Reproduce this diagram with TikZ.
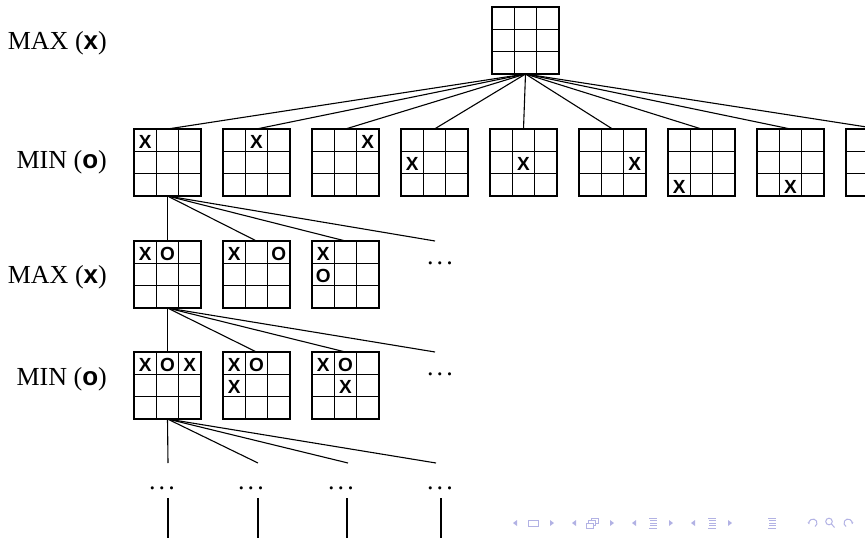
\documentclass[tikz,border=0pt]{standalone}
\usepackage{fontspec}
\setmainfont{Liberation Serif}
\setsansfont{Liberation Sans}
\usepackage{tikz}
\usetikzlibrary{calc,positioning}
\usetikzlibrary{arrows.meta}
\definecolor{navblue}{RGB}{178,178,228}

\tikzset{
  board/.style={draw, line width=1.2pt, minimum size=67pt, inner sep=0pt, outer sep=0pt,
    path picture={
      \foreach \t in {1,2} {
        \draw[line width=1.2pt] ($(path picture bounding box.north west)!\t/3!(path picture bounding box.north east)$)
          -- ($(path picture bounding box.south west)!\t/3!(path picture bounding box.south east)$);
        \draw[line width=1.2pt] ($(path picture bounding box.north west)!\t/3!(path picture bounding box.south west)$)
          -- ($(path picture bounding box.north east)!\t/3!(path picture bounding box.south east)$);
      }}},
  piece/.style={font=\fontsize{19}{21}\selectfont\sffamily\bfseries, inner sep=0pt},
  level/.style={anchor=base east, font=\fontsize{26}{31}\selectfont, inner sep=0pt},
  more/.style={anchor=base, font=\fontsize{26}{31}\selectfont, inner sep=0pt},
  edge/.style={line width=1.1pt},
  nav/.style={navblue, line width=1pt}
}
% X or O in cell (column, row) of a board
\newcommand{\putmark}[4]{\node[piece] (#1-#2#3) at ($(#1.north west)+(#2*22.33-11.17,#3*22.33-9.3)$) {#4};}
\newcommand{\moredots}{.\kern0.12em.\kern0.12em.}

\begin{document}
\begin{tikzpicture}[x=1pt, y=-1pt]
  \clip (0,0) rectangle (865,538);

  % players
  \node[level] (lmax1) at (107,49) {MAX (\textsf{\bfseries x})};
  \node[level] (lmin1) at (107,168) {MIN (\textsf{\bfseries o})};
  \node[level] (lmax2) at (107,283) {MAX (\textsf{\bfseries x})};
  \node[level] (lmin2) at (107,385) {MIN (\textsf{\bfseries o})};

  % root and first moves
  \node[board] (root) at (525.5,40.5) {};
  \foreach \k in {1,...,9}
    \node[board] (m\k) at (78.5+89*\k,162.5) {};
  \putmark{m1}{1}{1}{X}
  \putmark{m2}{2}{1}{X}
  \putmark{m3}{3}{1}{X}
  \putmark{m4}{1}{2}{X}
  \putmark{m5}{2}{2}{X}
  \putmark{m6}{3}{2}{X}
  \putmark{m7}{1}{3}{X}
  \putmark{m8}{2}{3}{X}
  \foreach \k in {1,...,9}
    \draw[edge] (root.south) -- (m\k.north);

  % second moves
  \node[board] (a1) at (167.5,274.5) {};
  \node[board] (a2) at (256.5,274.5) {};
  \node[board] (a3) at (345.5,274.5) {};
  \coordinate (a4) at (435,241);
  \node[more] (adots) at (440,264.5) {\moredots};
  \putmark{a1}{1}{1}{X}
  \putmark{a1}{2}{1}{O}
  \putmark{a2}{1}{1}{X}
  \putmark{a2}{3}{1}{O}
  \putmark{a3}{1}{1}{X}
  \putmark{a3}{1}{2}{O}
  \draw[edge] (m1.south) -- (a1.north);
  \draw[edge] (m1.south) -- (a2.north);
  \draw[edge] (m1.south) -- (a3.north);
  \draw[edge] (m1.south) -- (a4);

  % third moves
  \node[board] (b1) at (167.5,385.5) {};
  \node[board] (b2) at (256.5,385.5) {};
  \node[board] (b3) at (345.5,385.5) {};
  \coordinate (b4) at (435,352);
  \node[more] (bdots) at (440,375.5) {\moredots};
  \putmark{b1}{1}{1}{X}
  \putmark{b1}{2}{1}{O}
  \putmark{b1}{3}{1}{X}
  \putmark{b2}{1}{1}{X}
  \putmark{b2}{2}{1}{O}
  \putmark{b2}{1}{2}{X}
  \putmark{b3}{1}{1}{X}
  \putmark{b3}{2}{1}{O}
  \putmark{b3}{2}{2}{X}
  \draw[edge] (a1.south) -- (b1.north);
  \draw[edge] (a1.south) -- (b2.north);
  \draw[edge] (a1.south) -- (b3.north);
  \draw[edge] (a1.south) -- (b4);

  % deeper levels
  \path
    (168,463) coordinate (c1)
    (258,463) coordinate (c2)
    (348,463) coordinate (c3)
    (436,463) coordinate (c4)
    (168,498) coordinate (u1)
    (258,498) coordinate (u2)
    (347,498) coordinate (u3)
    (441,498) coordinate (u4)
    (168,538) coordinate (v1)
    (258,538) coordinate (v2)
    (347,538) coordinate (v3)
    (441,538) coordinate (v4)
    ;
  \node[more] (cdots1) at (162,489) {\moredots};
  \node[more] (cdots2) at (251,489) {\moredots};
  \node[more] (cdots3) at (341,489) {\moredots};
  \node[more] (cdots4) at (440,489) {\moredots};
  \draw[edge] (b1.south) -- (c1);
  \draw[edge] (b1.south) -- (c2);
  \draw[edge] (b1.south) -- (c3);
  \draw[edge] (b1.south) -- (c4);
  \draw[edge] (u1) -- (v1);
  \draw[edge] (u2) -- (v2);
  \draw[edge] (u3) -- (v3);
  \draw[edge] (u4) -- (v4);

  % navigation symbols
  \foreach \x in {515,574,634,693}
    \fill[navblue] (\x+2,520) -- (\x-2,523) -- (\x+2,526) -- cycle;
  \foreach \x in {552,612,671,730}
    \fill[navblue] (\x-2,520) -- (\x+2,523) -- (\x-2,526) -- cycle;
  \draw[nav] (528,520) rectangle (538,526);
  \draw[nav, fill=white] (591,518) rectangle (598,523);
  \draw[nav, fill=white] (588.5,520.5) rectangle (595.5,525.5);
  \draw[nav, fill=white] (586,523) rectangle (593,528);
  \foreach \x in {653,712,772} {
    \draw[nav] (\x-4,518) -- (\x+4,518);
    \draw[nav] (\x-3,520.5) -- (\x+4,520.5);
    \draw[nav] (\x-3,523) -- (\x+4,523);
    \draw[nav] (\x-3,525.5) -- (\x+4,525.5);
    \draw[nav] (\x-4,528) -- (\x+4,528);
  }
  \draw[nav, -{Stealth[length=2.5pt]}] (815,526.5) arc[start angle=60, end angle=-200, radius=4];
  \draw[nav] (829,521.5) circle[radius=3.3] (831.5,524) -- (834.5,527.5);
  \draw[nav, -{Stealth[length=2.5pt]}] (846,526.5) arc[start angle=-240, end angle=20, radius=4];
\end{tikzpicture}
\end{document}
